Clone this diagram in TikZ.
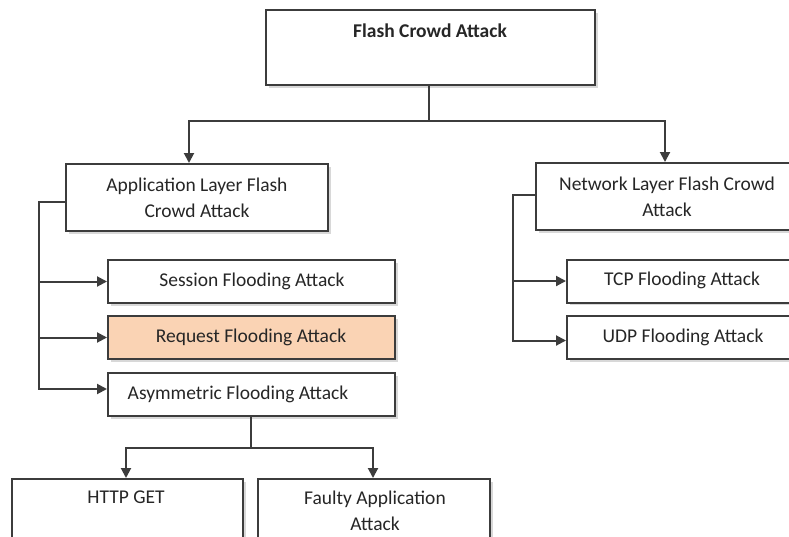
\documentclass[tikz,border=0pt]{standalone}
\usepackage{fontspec}
\setmainfont{Carlito}
\usetikzlibrary{arrows.meta,shadows}
\definecolor{edge}{HTML}{3C3C3C}
\definecolor{peach}{HTML}{FAD3B4}
\begin{document}
\begin{tikzpicture}[x=1pt,y=-1pt,
  box/.style={draw=edge,line width=2pt,fill=white,inner sep=0pt,
    drop shadow={shadow xshift=2.5pt,shadow yshift=-2.5pt,fill=black!25,opacity=0.6}},
  lbl/.style={text=black!85,font=\fontsize{19.5}{26}\selectfont,align=center,inner sep=0pt},
  conn/.style={draw=edge,line width=2pt},
  arr/.style={conn,-{Triangle[length=10pt,width=10pt]}}]
\useasboundingbox (0,0) rectangle (789,536);
\clip (0,0) rectangle (789,536);
\fill[white] (0,0) rectangle (789,536);
% boxes
\node[box,minimum width=329pt,minimum height=75pt] (top) at (430.5,47.5) {};
\node[box,minimum width=262pt,minimum height=67pt] (app) at (197,197.5) {};
\node[box,minimum width=264pt,minimum height=67pt] (net) at (668,196.5) {};
\node[box,minimum width=287pt,minimum height=43pt] (ses) at (251.5,281.5) {};
\node[box,fill=peach,minimum width=287pt,minimum height=43pt] (req) at (251.5,337.5) {};
\node[box,minimum width=287pt,minimum height=43pt] (asy) at (251.5,394.5) {};
\node[box,minimum width=233pt,minimum height=43pt] (tcp) at (683.5,281) {};
\node[box,minimum width=233pt,minimum height=43pt] (udp) at (683.5,337.5) {};
\node[box,minimum width=231pt,minimum height=81pt] (http) at (127.5,519.5) {};
\node[box,minimum width=232pt,minimum height=81pt] (faulty) at (374,519.5) {};
% texts
\node[lbl,font=\fontsize{19.5}{26}\selectfont\bfseries] (ttop) at (430,31) {Flash Crowd Attack};
\node[lbl] (tapp) at (197,198) {Application Layer Flash\\Crowd Attack};
\node[lbl] (tnet) at (667,196.5) {Network Layer Flash Crowd\\Attack};
\node[lbl] (tses) at (252,281) {Session Flooding Attack};
\node[lbl] (treq) at (251,337) {Request Flooding Attack};
\node[lbl] (tasy) at (238,394) {Asymmetric Flooding Attack};
\node[lbl] (ttcp) at (682,280) {TCP Flooding Attack};
\node[lbl] (tudp) at (683,337) {UDP Flooding Attack};
\node[lbl] (thttp) at (126,497) {HTTP GET};
\node[lbl] (tfaulty) at (375,510.5) {Faulty Application\\Attack};
% connectors
\coordinate (j1) at (429,121);
\draw[conn] (j1 |- top.south) -- (j1);
\draw[arr] (j1) -| ([xshift=-8pt]app.north);
\draw[arr] (j1) -| ([xshift=-3pt]net.north);
\coordinate (ax) at (39,0);
\coordinate (aend) at ([yshift=5.5pt]asy.west);
\draw[arr] ([yshift=-4.5pt]app.west) -| (ax |- aend) -- (aend);
\draw[arr] (ax |- ses.west) -- (ses.west);
\draw[arr] (ax |- req.west) -- (req.west);
\coordinate (nx) at (513,0);
\coordinate (nend) at ([yshift=-3pt]udp.west);
\draw[arr] ([yshift=1.5pt]net.west) -| (nx |- nend) -- (nend);
\draw[arr] (nx |- tcp.west) -- (tcp.west);
\coordinate (j2) at (251,448);
\draw[conn] (asy.south -| j2) -- (j2);
\draw[arr] (j2) -| ([xshift=-1.5pt]http.north);
\draw[arr] (j2) -| ([xshift=-1pt]faulty.north);
\end{tikzpicture}
\end{document}
